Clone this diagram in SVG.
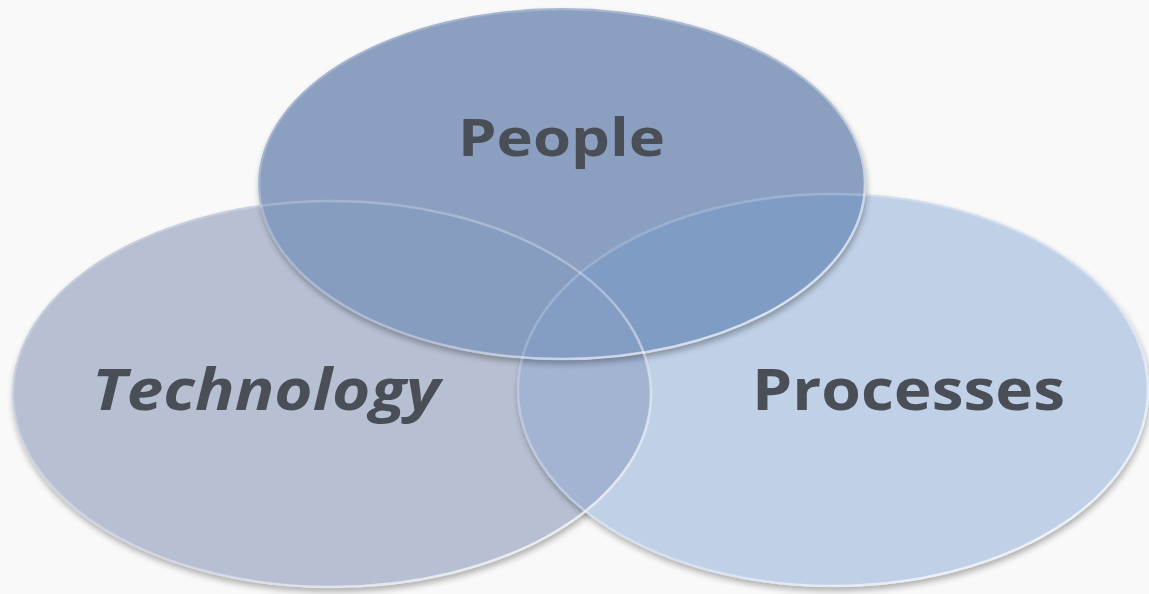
<svg xmlns="http://www.w3.org/2000/svg" width="1149" height="594" viewBox="0 0 1149 594">
  <defs>
    <filter id="shadow" x="-10%" y="-10%" width="120%" height="125%">
      <feGaussianBlur in="SourceAlpha" stdDeviation="3"/>
      <feOffset dx="1" dy="4"/>
      <feComponentTransfer><feFuncA type="linear" slope="0.3"/></feComponentTransfer>
      <feMerge><feMergeNode/><feMergeNode in="SourceGraphic"/></feMerge>
    </filter>
    <clipPath id="cTech"><ellipse cx="332" cy="394" rx="320" ry="194"/></clipPath>
    <clipPath id="cProc"><ellipse cx="833" cy="390" rx="316" ry="197"/></clipPath>
    <linearGradient id="rim" x1="0" y1="0" x2="1" y2="1">
      <stop offset="0" stop-color="#ffffff" stop-opacity="0.15"/>
      <stop offset="0.6" stop-color="#ffffff" stop-opacity="0.35"/>
      <stop offset="1" stop-color="#ffffff" stop-opacity="0.9"/>
    </linearGradient>
  </defs>
  <style>
    .lbl { font-family: "Open Sans", "Liberation Sans", sans-serif; font-weight: 700; fill: #4a4f57; }
    .ring { fill: none; stroke: url(#rim); stroke-width: 2.5; }
  </style>
  <rect width="1149" height="594" fill="#f9f9f9"/>

  <g id="technology">
    <ellipse cx="332" cy="394" rx="320" ry="194" fill="#b7c0d2" filter="url(#shadow)"/>
  </g>
  <g id="processes">
    <ellipse cx="833" cy="390" rx="316" ry="197" fill="#c0d0e7" filter="url(#shadow)"/>
    <ellipse cx="332" cy="394" rx="320" ry="194" fill="#a3b4d2" clip-path="url(#cProc)"/>
  </g>
  <g id="people">
    <ellipse cx="562" cy="184" rx="304" ry="176" fill="#8b9fc1" filter="url(#shadow)"/>
    <ellipse cx="562" cy="184" rx="304" ry="176" fill="#879dc0" clip-path="url(#cTech)"/>
    <ellipse cx="562" cy="184" rx="304" ry="176" fill="#7f9cc5" clip-path="url(#cProc)"/>
    <g clip-path="url(#cTech)">
      <ellipse cx="562" cy="184" rx="304" ry="176" fill="#849dc4" clip-path="url(#cProc)"/>
    </g>
  </g>
  <g id="rims">
    <ellipse class="ring" cx="332" cy="394" rx="319" ry="193"/>
    <ellipse class="ring" cx="833" cy="390" rx="315" ry="196"/>
    <ellipse class="ring" cx="562" cy="184" rx="303" ry="175"/>
  </g>

  <g id="labels">
    <text class="lbl" x="458" y="156" font-size="52" textLength="207" lengthAdjust="spacingAndGlyphs">People</text>
    <text class="lbl" x="92" y="410" font-size="58" font-style="italic" textLength="348" lengthAdjust="spacingAndGlyphs">Technology</text>
    <text class="lbl" x="752" y="410" font-size="58" textLength="313" lengthAdjust="spacingAndGlyphs">Processes</text>
  </g>
  <g id="connectors"/>
</svg>
